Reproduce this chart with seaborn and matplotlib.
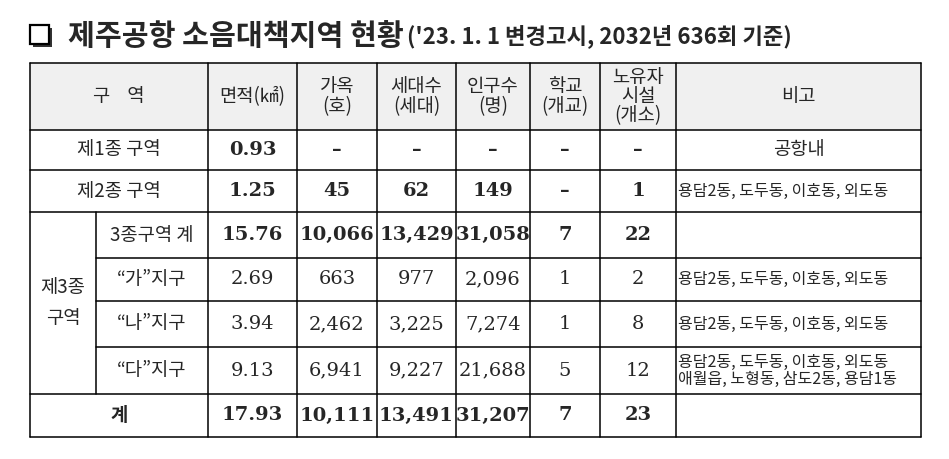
import matplotlib
matplotlib.use("Agg")
import matplotlib.pyplot as plt
from matplotlib.patches import Rectangle
import seaborn as sns

# 제주공항 소음대책지역 현황 표
title = "제주공항 소음대책지역 현황"
subtitle = "('23. 1. 1 변경고시, 2032년 636회 기준)"

headers = ["구    역", "면적(㎢)", "가옥\n(호)", "세대수\n(세대)", "인구수\n(명)",
           "학교\n(개교)", "노유자\n시설\n(개소)", "비고"]

row_labels = ["제1종 구역", "제2종 구역", "3종구역 계", "“가”지구", "“나”지구", "“다”지구", "계"]
area = ["0.93", "1.25", "15.76", "2.69", "3.94", "9.13", "17.93"]
houses = ["–", "45", "10,066", "663", "2,462", "6,941", "10,111"]
households = ["–", "62", "13,429", "977", "3,225", "9,227", "13,491"]
population = ["–", "149", "31,058", "2,096", "7,274", "21,688", "31,207"]
schools = ["–", "–", "7", "1", "1", "5", "7"]
facilities = ["–", "1", "22", "2", "8", "12", "23"]
remarks = ["공항내", "용담2동, 도두동, 이호동, 외도동", "",
           "용담2동, 도두동, 이호동, 외도동", "용담2동, 도두동, 이호동, 외도동",
           "용담2동, 도두동, 이호동, 외도동\n애월읍, 노형동, 삼도2동, 용담1동", ""]
bold_rows = [0, 1, 2, 6]

sns.set_theme(style="white")
plt.rcParams["font.family"] = ["Noto Sans CJK KR", "DejaVu Sans"]

col_x = [30, 208, 297, 377, 456, 530, 600, 676, 921]
sub_x = 96
row_y = [63, 130, 170, 212, 258, 301, 347, 394, 437]

fig = plt.figure(figsize=(9.49, 4.59), dpi=100)
ax = fig.add_axes([0, 0, 1, 1])
ax.set_xlim(0, 949)
ax.set_ylim(459, 0)
ax.axis("off")

# title
ax.add_patch(Rectangle((33, 28), 19, 19, facecolor="#333333", edgecolor="none"))
ax.add_patch(Rectangle((30, 25), 19, 19, facecolor="white", edgecolor="black", lw=1.6))
t = ax.text(68, 36, title, fontsize=21, fontweight="bold", va="center", ha="left")
ax.annotate(subtitle, xy=(1, 0.5), xycoords=t, xytext=(2, 0),
            textcoords="offset points", fontsize=16, fontweight="bold",
            va="center", ha="left")

# header background
ax.add_patch(Rectangle((col_x[0], row_y[0]), col_x[-1] - col_x[0], row_y[1] - row_y[0],
                       facecolor="#f0f0f0", edgecolor="none"))

lw = 1.1
for i, y in enumerate(row_y):
    x0 = sub_x if i in (4, 5, 6) else col_x[0]
    ax.plot([x0, col_x[-1]], [y, y], color="black", lw=lw)
for x in col_x:
    ax.plot([x, x], [row_y[0], row_y[-1]], color="black", lw=lw)
ax.plot([sub_x, sub_x], [row_y[3], row_y[7]], color="black", lw=lw)

for j, h in enumerate(headers):
    cx = (col_x[j] + col_x[j + 1]) / 2
    ax.text(cx, (row_y[0] + row_y[1]) / 2, h, ha="center", va="center",
            fontsize=13.5, linespacing=0.9)

columns = [area, houses, households, population, schools, facilities]
for i in range(len(row_labels)):
    cy = (row_y[i + 1] + row_y[i + 2]) / 2
    w = "bold" if i in bold_rows else "normal"
    if 2 <= i <= 5:
        lx = (sub_x + col_x[1]) / 2
    else:
        lx = (col_x[0] + col_x[1]) / 2
    ax.text(lx, cy, row_labels[i], ha="center", va="center", fontsize=13.5,
            fontweight="bold" if i == 6 else "normal")
    for j, col in enumerate(columns):
        cx = (col_x[j + 1] + col_x[j + 2]) / 2
        ax.text(cx, cy, col[i], ha="center", va="center", fontsize=14,
                fontweight=w, family="DejaVu Serif")
    if remarks[i]:
        if i == 0:
            ax.text((col_x[7] + col_x[8]) / 2, cy, remarks[i], ha="center",
                    va="center", fontsize=13.5)
        else:
            ax.text(col_x[7] + 2, cy, remarks[i], ha="left", va="center",
                    fontsize=11.5, linespacing=1.0)

ax.text((col_x[0] + sub_x) / 2, (row_y[3] + row_y[7]) / 2, "제3종\n구역",
        ha="center", va="center", fontsize=13.5, linespacing=1.6)

fig.savefig("out.png", dpi=100)
